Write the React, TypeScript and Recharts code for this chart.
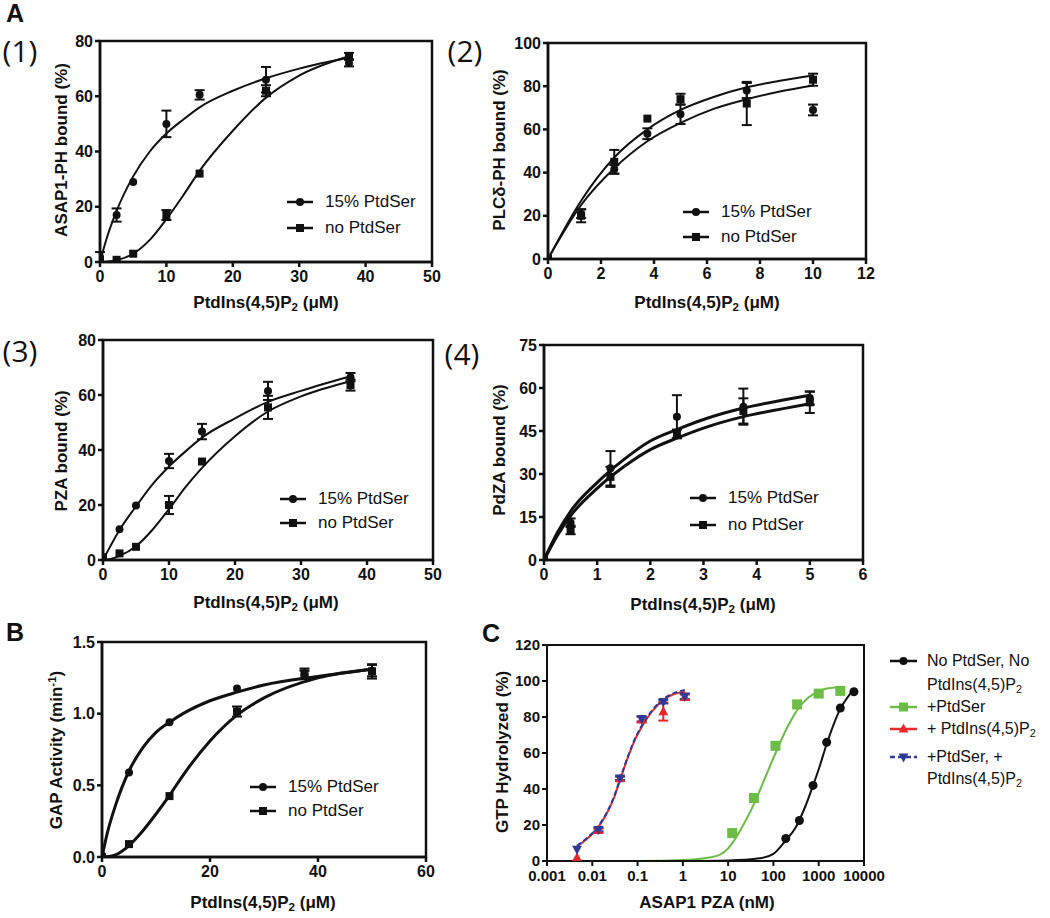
import React from "react";
import {
  ComposedChart,
  Line,
  Scatter,
  XAxis,
  YAxis,
  ErrorBar,
  ReferenceArea,
} from "recharts";

const FONT = '"Liberation Sans", Arial, Helvetica, sans-serif';
const INK = "#111";
const GREEN = "#6cbd45";
const RED = "#e8262b";
const BLUE = "#2d3b96";

// ---- (1) ASAP1-PH binding ----
const p1X = [0, 2.5, 5, 10, 15, 25, 37.5];
const p1Ser = [1.8, 17, 29, 50, 60.5, 66, 72];
const p1SerErr = [1.8, 2.4, 0, 4.8, 1.7, 4.6, 1.2];
const p1No = [0.6, 0.8, 3, 17, 32, 62, 74.5];
const p1NoErr = [0, 0, 0, 1.8, 0, 2, 1.2];
const p1FitX = [0, 1, 2.5, 5, 7.5, 10, 12.5, 15, 20, 25, 30, 37.5];
const p1SerFit = [0, 8.5, 18.5, 31, 40, 46.5, 51.5, 56, 62, 66.5, 70, 74];
const p1NoFit = [0, 0.1, 0.6, 3, 8, 15.5, 24, 33, 47.5, 59.5, 67.5, 74.5];

// ---- (2) PLCd-PH binding ----
const p2X = [0, 1.25, 2.5, 3.75, 5, 7.5, 10];
const p2Ser = [0, 21, 41.5, 58, 67, 78, 69];
const p2SerErr = [0, 2, 2, 2.5, 4.5, 3.5, 2.5];
const p2No = [0, 20, 45, 65, 74, 72, 83];
const p2NoErr = [0, 3, 5.5, 0, 2.5, 10, 2.8];
const p2FitX = [0, 1.25, 2.5, 3.75, 5, 6.25, 7.5, 8.75, 10];
const p2SerFit = [0, 25, 42, 54.5, 63, 69.5, 74, 77.5, 80.3];
const p2NoFit = [0, 27, 47, 60, 69, 75, 79.5, 82.5, 85];

// ---- (3) PZA binding ----
const p3X = [0, 2.5, 5, 10, 15, 25, 37.5];
const p3Ser = [1, 11.2, 19.8, 36, 46.7, 61.5, 66.5];
const p3SerErr = [0, 0, 0, 2.6, 2.8, 3.3, 1.5];
const p3No = [1, 2.4, 4.8, 20, 35.8, 55.5, 63.6];
const p3NoErr = [0, 0, 0, 3.3, 0, 4.2, 2];
const p3FitX = [0, 1, 2.5, 5, 7.5, 10, 12.5, 15, 20, 25, 30, 37.5];
const p3SerFit = [0, 4.5, 10.9, 19.5, 27.5, 34, 39.5, 44.5, 51.5, 57.5, 61.5, 66.8];
const p3NoFit = [0, 0.3, 1.5, 5, 11, 18.5, 26.5, 33.5, 45, 54, 59.5, 65];

// ---- (4) PdZA binding ----
const p4X = [0, 0.5, 1.25, 2.5, 3.75, 5];
const p4Ser = [0.5, 13, 32, 50, 53.5, 56.5];
const p4SerErr = [0, 1.5, 6, 7.5, 6.3, 2.3];
const p4No = [0.5, 10.5, 29, 44, 52, 55];
const p4NoErr = [0, 1.5, 3.5, 1.5, 4.4, 3.7];
const p4FitX = [0, 0.25, 0.5, 1, 1.5, 2, 2.5, 3, 3.75, 4.5, 5];
const p4SerFit = [0, 9.5, 17, 27, 35, 41.5, 45.5, 49, 53, 55.8, 57.5];
const p4NoFit = [0, 8.5, 15.4, 25, 32.5, 38.5, 42.5, 46, 50, 52.8, 54.5];

// ---- B GAP activity ----
const pbX = [0, 5, 12.5, 25, 37.5, 50];
const pbSer = [0.01, 0.59, 0.94, 1.175, 1.27, 1.3];
const pbSerErr = [0, 0, 0, 0, 0.03, 0.04];
const pbNo = [0, 0.09, 0.425, 1.015, 1.28, 1.295];
const pbNoErr = [0, 0, 0, 0.035, 0.035, 0.05];
const pbFitX = [0, 1, 2.5, 5, 7.5, 10, 12.5, 15, 20, 25, 30, 40, 50];
const pbSerFit = [0, 0.17, 0.36, 0.6, 0.76, 0.87, 0.94, 1.0, 1.09, 1.15, 1.2, 1.26, 1.31];
const pbNoFit = [0, 0.002, 0.015, 0.08, 0.18, 0.3, 0.43, 0.57, 0.81, 0.99, 1.11, 1.25, 1.31];

// ---- C GTP hydrolysis vs ASAP1 PZA (nM) ----
const cBlackX = [187.5, 375, 750, 1500, 3000, 6000];
const cBlack = [12.5, 22.5, 42, 66, 85, 94];
const cGreenX = [12.3, 37, 111, 333, 1000, 3000];
const cGreen = [15.5, 35, 64, 87, 93, 94.5];
const cPipX = [0.0046, 0.0137, 0.041, 0.123, 0.37, 1.1];
const cRed = [1.9, 17, 45.8, 78.5, 83, 91];
const cRedErr = [0, 1, 1.2, 1.5, 5, 1.5];
const cBlue = [6.5, 17.5, 46, 79, 88.5, 91.5];
const cBlueErr = [0, 1, 1, 1.5, 1, 1.5];
const cBlackFitX = [1, 10, 50, 100, 187.5, 300, 500, 750, 1000, 1500, 2000, 3000, 4500, 6000];
const cBlackFit = [0, 0.3, 1.5, 4, 11.5, 18, 30, 42, 51, 65, 74, 84.5, 91.5, 95.5];
const cGreenFitX = [0.0046, 0.1, 1, 3, 6.6, 10, 14, 20, 41, 70, 123, 200, 372, 600, 1160, 2000, 3000];
const cGreenFit = [0, 0, 0.5, 1.5, 3.5, 7, 12, 18.5, 34, 48, 62.5, 74, 85.5, 91, 95, 96.3, 96.5];
const cPipFitX = [0.0046, 0.007, 0.01, 0.0137, 0.02, 0.03, 0.041, 0.06, 0.09, 0.123, 0.2, 0.37, 0.6, 1.1];
const cRedFit = [8, 11.5, 15, 19, 25.5, 35, 45, 57, 68, 74.5, 82.5, 89.5, 92.5, 94];
const cBlueFit = [8.5, 12, 15.5, 19.5, 26, 35.5, 45.5, 57.5, 68.5, 75, 83, 90, 93, 95];

type Row = { x: number; y: number; e: number };
const rows = (xs: number[], ys: number[], es?: number[]): Row[] =>
  xs.map((x, i) => ({ x, y: ys[i], e: es ? es[i] : 0 }));

type Kind = "circle" | "square" | "up" | "down";

function Mark({ kind, cx, cy, size, color }: { kind: Kind; cx: number; cy: number; size: number; color: string }) {
  const s = size;
  if (kind === "circle") return <circle cx={cx} cy={cy} r={s / 2} fill={color} />;
  if (kind === "square") return <rect x={cx - s / 2} y={cy - s / 2} width={s} height={s} fill={color} />;
  if (kind === "up")
    return <path d={`M${cx},${cy - s * 0.6}L${cx + s * 0.55},${cy + s * 0.4}L${cx - s * 0.55},${cy + s * 0.4}Z`} fill={color} />;
  return <path d={`M${cx},${cy + s * 0.6}L${cx + s * 0.55},${cy - s * 0.4}L${cx - s * 0.55},${cy - s * 0.4}Z`} fill={color} />;
}

type Series = {
  pts: Row[];
  fit: { x: number; y: number }[];
  kind: Kind;
  color: string;
  size: number;
  width: number;
  dash?: string;
};

const PAD_L = 64;
const PAD_T = 12;
const PAD_R = 34;
const PAD_B = 34;

type Box = { x: number; y: number; w: number; h: number };

function Panel(props: {
  box: Box;
  xDomain: [number, number];
  xTicks: number[];
  yDomain: [number, number];
  yTicks: number[];
  series: Series[];
  log?: boolean;
  frame?: number;
  fontSize?: number;
  yFmt?: (v: number) => string;
}) {
  const { box, xDomain, xTicks, yDomain, yTicks, series, log, yFmt } = props;
  const frame = props.frame ?? 2.5;
  const fontSize = props.fontSize ?? 16;
  const tick = { fill: INK, fontSize, fontWeight: 700, fontFamily: FONT };
  return (
    <div style={{ position: "absolute", left: box.x - PAD_L, top: box.y - PAD_T }}>
      <ComposedChart
        width={box.w + PAD_L + PAD_R}
        height={box.h + PAD_T + PAD_B}
        margin={{ top: PAD_T, right: PAD_R, bottom: 0, left: 0 }}
      >
        <XAxis
          dataKey="x"
          type="number"
          scale={log ? "log" : "linear"}
          domain={xDomain}
          ticks={xTicks}
          interval={0}
          allowDataOverflow
          height={PAD_B}
          tickSize={5}
          tickMargin={4}
          axisLine={{ stroke: INK, strokeWidth: frame }}
          tickLine={{ stroke: INK, strokeWidth: frame }}
          tick={tick}
          tickFormatter={(v: number) => String(v)}
        />
        <YAxis
          type="number"
          domain={yDomain}
          ticks={yTicks}
          interval={0}
          allowDataOverflow
          width={PAD_L}
          tickSize={5}
          tickMargin={2}
          axisLine={{ stroke: INK, strokeWidth: frame }}
          tickLine={{ stroke: INK, strokeWidth: frame }}
          tick={tick}
          tickFormatter={yFmt ?? ((v: number) => String(v))}
        />
        <ReferenceArea
          x1={xDomain[0]}
          x2={xDomain[1]}
          y1={yDomain[0]}
          y2={yDomain[1]}
          fill="none"
          fillOpacity={0}
          stroke={INK}
          strokeWidth={frame}
          ifOverflow="visible"
        />
        {series.map((s, i) => (
          <Line
            key={"l" + i}
            data={s.fit}
            dataKey="y"
            type="monotone"
            stroke={s.color}
            strokeWidth={s.width}
            strokeDasharray={s.dash}
            dot={false}
            activeDot={false}
            isAnimationActive={false}
          />
        ))}
        {series.map((s, i) => (
          <Scatter
            key={"s" + i}
            data={s.pts}
            dataKey="y"
            isAnimationActive={false}
            shape={(p: any) => <Mark kind={s.kind} cx={p.cx} cy={p.cy} size={s.size} color={s.color} />}
          >
            <ErrorBar dataKey="e" direction="y" width={5} stroke={s.color} strokeWidth={2} />
          </Scatter>
        ))}
      </ComposedChart>
    </div>
  );
}

function Txt(props: {
  x: number;
  y: number;
  size: number;
  bold?: boolean;
  rotate?: boolean;
  anchor?: "start" | "middle";
  font?: string;
  children: React.ReactNode;
}) {
  const { x, y, size, bold, rotate, anchor = "middle", font, children } = props;
  const tx = anchor === "middle" ? "-50%" : "0";
  return (
    <div
      style={{
        position: "absolute",
        left: x,
        top: y,
        transform: `translate(${tx}, -50%)${rotate ? " rotate(-90deg)" : ""}`,
        fontSize: size,
        fontWeight: bold ? 700 : 400,
        fontFamily: font ?? FONT,
        whiteSpace: "nowrap",
        lineHeight: 1.1,
        color: INK,
      }}
    >
      {children}
    </div>
  );
}

const Sub = ({ children }: { children: React.ReactNode }) => (
  <span style={{ fontSize: "0.68em", position: "relative", top: "0.3em" }}>{children}</span>
);
const PIP2 = (
  <>
    PtdIns(4,5)P<Sub>2</Sub>
  </>
);

function Sym({ x, y, kind, color, size, dash, w = 26 }: { x: number; y: number; kind: Kind; color: string; size: number; dash?: string; w?: number }) {
  return (
    <svg style={{ position: "absolute", left: x, top: y - 8 }} width={w} height={16}>
      <line x1={0} y1={8} x2={w} y2={8} stroke={color} strokeWidth={2.5} strokeDasharray={dash} />
      <Mark kind={kind} cx={w / 2} cy={8} size={size} color={color} />
    </svg>
  );
}

function PairLegend({ x, y, gap }: { x: number; y: number; gap: number }) {
  return (
    <>
      <Sym x={x} y={y} kind="circle" color={INK} size={8} />
      <Txt x={x + 38} y={y} size={17} anchor="start">15% PtdSer</Txt>
      <Sym x={x} y={y + gap} kind="square" color={INK} size={8} />
      <Txt x={x + 38} y={y + gap} size={17} anchor="start">no PtdSer</Txt>
    </>
  );
}

function pair(xs: number[], a: number[], ae: number[], b: number[], be: number[], fx: number[], af: number[], bf: number[], width: number): Series[] {
  return [
    { pts: rows(xs, a, ae), fit: rows(fx, af), kind: "circle", color: INK, size: 8, width },
    { pts: rows(xs, b, be), fit: rows(fx, bf), kind: "square", color: INK, size: 8, width },
  ];
}

export default function App() {
  const cSeries: Series[] = [
    { pts: rows(cBlackX, cBlack), fit: rows(cBlackFitX, cBlackFit), kind: "circle", color: INK, size: 9, width: 2 },
    { pts: rows(cGreenX, cGreen), fit: rows(cGreenFitX, cGreenFit), kind: "square", color: GREEN, size: 10, width: 2 },
    { pts: rows(cPipX, cRed, cRedErr), fit: rows(cPipFitX, cRedFit), kind: "up", color: RED, size: 9, width: 2 },
    { pts: rows(cPipX, cBlue, cBlueErr), fit: rows(cPipFitX, cBlueFit), kind: "down", color: BLUE, size: 9, width: 2, dash: "5 3" },
  ];
  return (
    <div style={{ position: "absolute", left: 0, top: 0, width: 1050, height: 918, background: "#fff", fontFamily: FONT }}>
      <Panel
        box={{ x: 100, y: 41, w: 332, h: 221 }}
        xDomain={[0, 50]}
        xTicks={[0, 10, 20, 30, 40, 50]}
        yDomain={[0, 80]}
        yTicks={[0, 20, 40, 60, 80]}
        series={pair(p1X, p1Ser, p1SerErr, p1No, p1NoErr, p1FitX, p1SerFit, p1NoFit, 2)}
      />
      <Panel
        box={{ x: 548, y: 43, w: 318, h: 216 }}
        xDomain={[0, 12]}
        xTicks={[0, 2, 4, 6, 8, 10, 12]}
        yDomain={[0, 100]}
        yTicks={[0, 20, 40, 60, 80, 100]}
        series={pair(p2X, p2Ser, p2SerErr, p2No, p2NoErr, p2FitX, p2SerFit, p2NoFit, 2)}
      />
      <Panel
        box={{ x: 103, y: 340, w: 330, h: 220 }}
        xDomain={[0, 50]}
        xTicks={[0, 10, 20, 30, 40, 50]}
        yDomain={[0, 80]}
        yTicks={[0, 20, 40, 60, 80]}
        series={pair(p3X, p3Ser, p3SerErr, p3No, p3NoErr, p3FitX, p3SerFit, p3NoFit, 2)}
      />
      <Panel
        box={{ x: 544, y: 345, w: 319, h: 215 }}
        xDomain={[0, 6]}
        xTicks={[0, 1, 2, 3, 4, 5, 6]}
        yDomain={[0, 75]}
        yTicks={[0, 15, 30, 45, 60, 75]}
        series={pair(p4X, p4Ser, p4SerErr, p4No, p4NoErr, p4FitX, p4SerFit, p4NoFit, 3)}
      />
      <Panel
        box={{ x: 102, y: 642, w: 324, h: 215 }}
        xDomain={[0, 60]}
        xTicks={[0, 20, 40, 60]}
        yDomain={[0, 1.5]}
        yTicks={[0, 0.5, 1, 1.5]}
        yFmt={(v: number) => v.toFixed(1)}
        series={pair(pbX, pbSer, pbSerErr, pbNo, pbNoErr, pbFitX, pbSerFit, pbNoFit, 3)}
      />
      <Panel
        box={{ x: 547, y: 645, w: 317, h: 216 }}
        xDomain={[0.001, 10000]}
        xTicks={[0.001, 0.01, 0.1, 1, 10, 100, 1000, 10000]}
        yDomain={[0, 120]}
        yTicks={[0, 20, 40, 60, 80, 100, 120]}
        log
        frame={2}
        fontSize={15}
        series={cSeries}
      />

      {/* panel letters */}
      <Txt x={15} y={14} size={25} bold>A</Txt>
      <Txt x={20} y={50} size={30} font='"Open Sans", sans-serif'>(1)</Txt>
      <Txt x={465} y={50} size={30} font='"Open Sans", sans-serif'>(2)</Txt>
      <Txt x={20} y={350} size={30} font='"Open Sans", sans-serif'>(3)</Txt>
      <Txt x={462} y={353} size={30} font='"Open Sans", sans-serif'>(4)</Txt>
      <Txt x={15} y={633} size={25} bold>B</Txt>
      <Txt x={491} y={634} size={25} bold>C</Txt>

      {/* axis titles */}
      <Txt x={62} y={150} size={17} bold rotate>ASAP1-PH bound (%)</Txt>
      <Txt x={266} y={303} size={17} bold>{PIP2} (μM)</Txt>
      <Txt x={500} y={150} size={17} bold rotate>PLCδ-PH bound (%)</Txt>
      <Txt x={707} y={303} size={17} bold>{PIP2} (μM)</Txt>
      <Txt x={62} y={451} size={17} bold rotate>PZA bound (%)</Txt>
      <Txt x={266} y={603} size={17} bold>{PIP2} (μM)</Txt>
      <Txt x={500} y={450} size={17} bold rotate>PdZA bound (%)</Txt>
      <Txt x={703} y={605} size={17} bold>{PIP2} (μM)</Txt>
      <Txt x={57} y={750} size={17} bold rotate>
        GAP Activity (min<span style={{ fontSize: "0.68em", position: "relative", top: "-0.5em" }}>-1</span>)
      </Txt>
      <Txt x={263} y={903} size={17} bold>{PIP2} (μM)</Txt>
      <Txt x={503} y={752} size={17} bold rotate>GTP Hydrolyzed (%)</Txt>
      <Txt x={707} y={903} size={17} bold>ASAP1 PZA (nM)</Txt>

      {/* legends */}
      <PairLegend x={287} y={202} gap={26} />
      <PairLegend x={683} y={212} gap={25} />
      <PairLegend x={280} y={499} gap={24} />
      <PairLegend x={690} y={498} gap={27} />
      <PairLegend x={250} y={787} gap={24} />

      <Sym x={890} y={661} kind="circle" color={INK} size={8} w={27} />
      <Txt x={927} y={661} size={16} anchor="start">No PtdSer, No</Txt>
      <Txt x={927} y={685} size={16} anchor="start">{PIP2}</Txt>
      <Sym x={890} y={707} kind="square" color={GREEN} size={9} w={27} />
      <Txt x={927} y={707} size={16} anchor="start">+PtdSer</Txt>
      <Sym x={890} y={729} kind="up" color={RED} size={9} w={27} />
      <Txt x={927} y={729} size={16} anchor="start">+ {PIP2}</Txt>
      <Sym x={890} y={757} kind="down" color={BLUE} size={9} w={27} dash="5 3" />
      <Txt x={927} y={757} size={16} anchor="start">+PtdSer, +</Txt>
      <Txt x={927} y={779} size={16} anchor="start">{PIP2}</Txt>
    </div>
  );
}
